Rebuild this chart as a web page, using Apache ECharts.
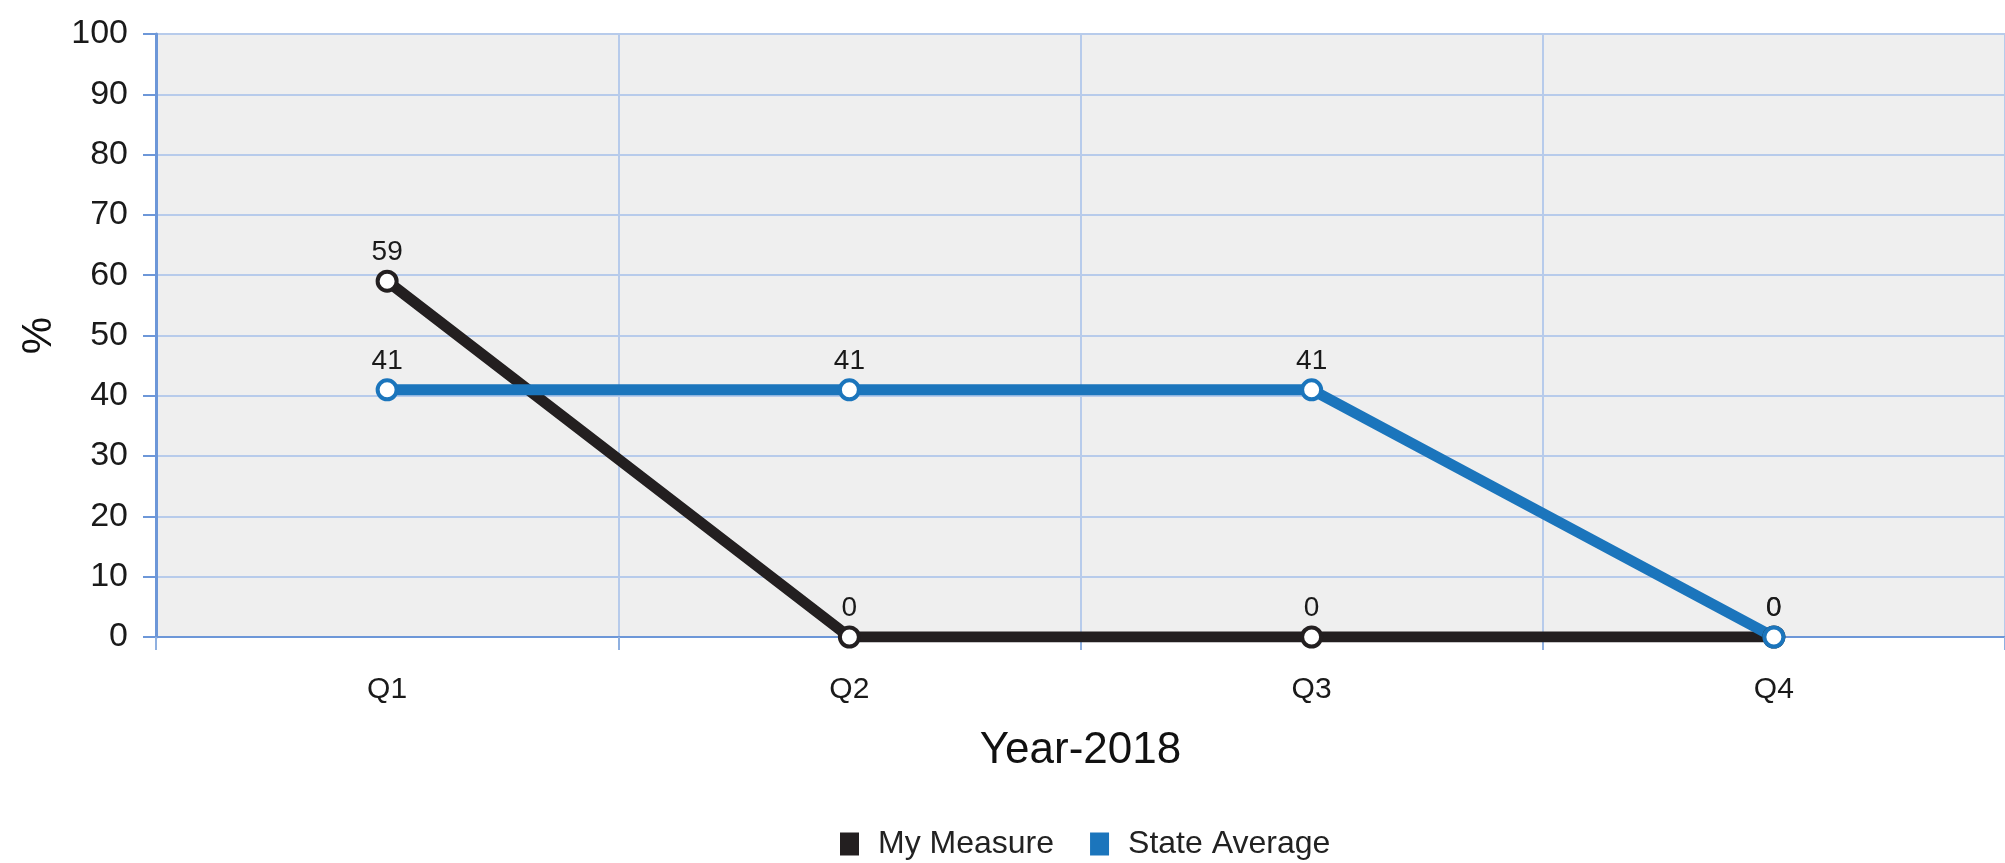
<!DOCTYPE html>
<html>
<head>
<meta charset="utf-8">
<script src="https://cdn.jsdelivr.net/npm/echarts@6/dist/echarts.min.js"></script>
<style>
html,body{margin:0;padding:0;background:#fff;}
#chart{width:2005px;height:863px;}
</style>
</head>
<body>
<div id="chart"></div>
<script>
const categories = ['Q1', 'Q2', 'Q3', 'Q4'];
const myMeasure = [59, 0, 0, 0];
const stateAverage = [41, 41, 41, 0];
const seriesNames = ['My Measure', 'State Average'];
const seriesColors = ['#231f20', '#1b75bc'];
const yTicks = {min: 0, max: 100, interval: 10};
const xTitle = 'Year-2018';
const yTitle = '%';

const FONT = "'Liberation Sans', Arial, sans-serif";
const chart = echarts.init(document.getElementById('chart'));
const labelStyle = {show: true, position: 'top', distance: 3, color: '#1a1a1a', fontSize: 28, fontFamily: FONT};
chart.setOption({
  animation: false,
  backgroundColor: '#ffffff',
  legend: {
    data: seriesNames.map((n, i) => ({name: n, icon: 'rect', itemStyle: {color: seriesColors[i], borderWidth: 0}})),
    top: 823, left: 835, itemWidth: 19, itemHeight: 23, itemGap: 36,
    textStyle: {fontSize: 32, color: '#222', fontFamily: FONT, padding: [0, 0, 0, 14]}
  },
  grid: {left: 156, right: -16, top: 34, bottom: 226, show: true, backgroundColor: '#efefef', borderWidth: 0},
  xAxis: {
    type: 'category', data: categories, boundaryGap: true,
    name: xTitle, nameLocation: 'middle', nameGap: 92,
    nameTextStyle: {fontSize: 44, color: '#111', fontFamily: FONT},
    axisLine: {show: true, lineStyle: {color: '#6d97d8', width: 2}},
    axisTick: {show: true, length: 13, lineStyle: {color: '#8fb0e0', width: 2}},
    splitLine: {show: true, lineStyle: {color: '#b7cbeb', width: 2}},
    axisLabel: {margin: 38, fontSize: 30, color: '#1a1a1a', fontFamily: FONT}
  },
  yAxis: {
    type: 'value', min: yTicks.min, max: yTicks.max, interval: yTicks.interval,
    name: yTitle, nameLocation: 'middle', nameGap: 94, nameRotate: 90,
    nameTextStyle: {fontSize: 42, color: '#111', fontFamily: FONT},
    axisLine: {show: true, lineStyle: {color: '#6d97d8', width: 3}},
    axisTick: {show: true, length: 13, lineStyle: {color: '#6d97d8', width: 2}},
    splitLine: {show: true, lineStyle: {color: '#b7cbeb', width: 2}},
    axisLabel: {margin: 28, fontSize: 34, color: '#1a1a1a', fontFamily: FONT}
  },
  series: [
    {
      name: seriesNames[0], type: 'line', data: myMeasure,
      color: seriesColors[0],
      lineStyle: {color: seriesColors[0], width: 11},
      symbol: 'circle', symbolSize: 19,
      itemStyle: {color: '#ffffff', borderColor: seriesColors[0], borderWidth: 4},
      label: labelStyle
    },
    {
      name: seriesNames[1], type: 'line', data: stateAverage,
      color: seriesColors[1],
      lineStyle: {color: seriesColors[1], width: 11},
      symbol: 'circle', symbolSize: 19,
      itemStyle: {color: '#ffffff', borderColor: seriesColors[1], borderWidth: 4},
      label: labelStyle
    }
  ]
});
</script>
</body>
</html>
